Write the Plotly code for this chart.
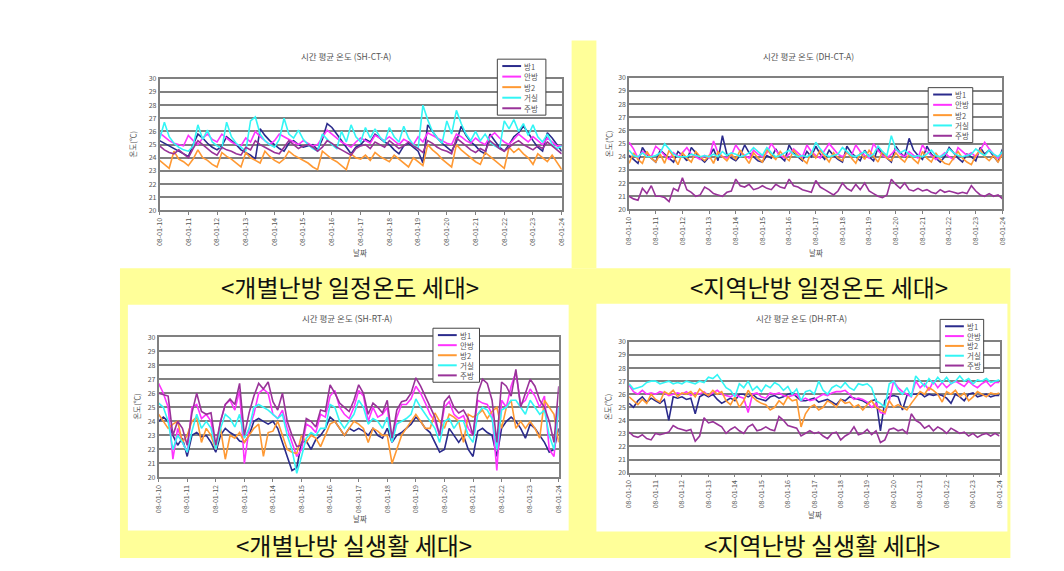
import plotly.graph_objects as go
import pandas as pd

# ---------------- data ----------------
times = pd.date_range("2008-01-10 00:00", "2008-01-24 00:00", freq="4h")  # 85 points
series_names = ["방1", "안방", "방2", "거실", "주방"]
series_colors = ["#2B2B8C", "#FF33FF", "#FF9933", "#33F5F5", "#993399"]

# SH-CT-A
sh_ct_bang1 = [25.3, 25.1, 24.9, 24.7, 24.5, 24.3,
               24.1, 25.0, 25.8, 25.5, 25.1, 24.8,
               24.6, 24.9, 25.6, 25.3, 25.0, 24.6,
               24.4, 24.2, 23.9, 26.2, 25.7, 25.3,
               25.0, 24.7, 24.5, 25.1, 25.3, 25.0,
               24.8, 24.9, 25.0, 24.6, 25.4, 26.6,
               26.3, 25.8, 25.3, 24.8, 24.3, 24.8,
               25.0, 25.4, 25.2, 25.8, 25.5, 25.2,
               25.0, 24.6, 24.3, 24.9, 25.1, 24.8,
               24.5, 23.6, 26.5, 26.0, 25.5, 25.1,
               24.8, 24.5, 25.2, 26.4, 25.7, 25.2,
               24.9, 24.5, 24.3, 25.8, 25.3, 24.8,
               24.5, 25.0, 25.6, 25.9, 26.4, 25.9,
               25.3, 24.8, 24.5, 25.9, 25.5, 25.0,
               24.5]
sh_ct_anbang = [25.9, 25.6, 25.3, 25.1, 25.0, 24.9,
                25.7, 25.3, 25.0, 25.5, 25.8, 25.4,
                25.2, 25.8, 25.5, 25.2, 25.0, 24.9,
                25.5, 25.2, 26.0, 25.6, 25.3, 25.0,
                25.3, 25.8, 25.6, 25.4, 25.2, 25.0,
                25.3, 25.1, 24.9, 25.0, 25.6, 26.1,
                25.8, 25.5, 25.2, 25.0, 24.8, 25.2,
                25.5, 25.3, 25.1, 25.7, 25.5, 25.3,
                25.6, 25.3, 25.0, 25.4, 25.2, 25.0,
                25.6, 25.2, 25.9, 25.7, 25.5, 25.3,
                25.1, 25.0, 25.8, 25.6, 25.3, 25.1,
                25.5, 25.2, 25.0, 25.6, 25.9, 25.5,
                25.2, 25.0, 25.4, 25.8, 25.5, 25.2,
                25.6, 25.3, 25.0, 25.5, 25.2, 24.9,
                24.9]
sh_ct_bang2 = [23.8, 23.5, 23.2, 24.5, 23.9, 23.7,
               23.4, 23.9, 24.6, 24.0, 23.8, 23.5,
               23.3, 24.4, 24.1, 23.9, 23.6, 23.3,
               24.4, 24.0, 23.8, 23.6, 24.5, 24.1,
               23.8, 23.6, 23.9, 24.5, 24.2, 24.0,
               23.8, 23.6, 23.3, 23.1, 24.5, 24.2,
               23.9, 23.7, 23.4, 23.1, 24.3, 24.0,
               23.9, 24.2, 23.8, 24.4, 24.1, 23.9,
               23.7, 24.2, 23.9, 23.6, 23.3, 24.0,
               23.7, 23.4, 25.0, 24.6, 24.3, 23.9,
               23.6, 23.3, 25.0, 24.6, 24.3, 24.0,
               23.7, 23.5, 24.4, 24.1, 23.8, 23.5,
               23.2, 24.8, 24.4, 24.7, 24.3, 24.0,
               23.5, 24.3, 24.0, 23.7, 24.2, 23.6,
               23.1]
sh_ct_geosil = [25.4, 26.7, 25.6, 25.1, 24.8, 24.6,
                24.5, 24.9, 26.5, 25.4, 26.1, 25.2,
                24.9, 24.7, 26.7, 25.6, 25.1, 24.8,
                24.5, 26.8, 27.1, 25.8, 25.3, 25.0,
                24.8, 25.4, 27.0, 25.8, 25.5, 26.1,
                25.4, 25.0, 24.7, 24.5, 25.8, 25.4,
                25.0, 24.7, 26.0, 25.2, 26.5, 25.6,
                25.2, 26.3, 25.5, 26.2, 25.6, 25.2,
                26.3, 25.6, 25.2, 26.4, 25.5, 25.0,
                24.7, 28.0, 26.9, 26.0, 25.5, 25.1,
                26.8, 25.8, 27.6, 26.6, 25.8, 25.3,
                26.0, 25.3, 25.8, 25.2, 24.9, 24.7,
                26.8, 26.2, 26.9, 26.0, 26.6, 25.7,
                26.5, 25.6, 25.2, 25.8, 25.0, 24.7,
                24.9]
sh_ct_jubang = [24.9, 24.6, 24.4, 24.3, 24.6, 24.3,
                24.0, 24.7, 25.3, 25.0, 24.7, 24.4,
                24.2, 24.8, 24.6, 24.5, 24.3, 24.2,
                24.8, 24.6, 25.3, 25.0, 24.8, 24.6,
                24.4, 24.3, 24.8, 25.3, 25.0, 24.7,
                24.9, 25.0, 24.8, 24.5, 24.8, 25.3,
                25.1, 24.8, 24.6, 24.4, 24.2, 24.7,
                24.9, 25.0, 24.7, 25.2, 25.0, 24.8,
                25.3, 25.0, 24.7, 24.9, 25.2, 24.9,
                24.7, 24.4, 25.3, 25.1, 24.8, 24.6,
                24.5, 24.3, 25.5, 25.2, 24.9, 24.6,
                24.4, 24.7, 24.5, 25.3, 25.0, 24.7,
                24.5, 24.8, 25.1, 25.3, 25.0, 24.8,
                24.6, 24.9, 24.7, 25.2, 24.9, 24.6,
                24.3]

# DH-CT-A
dh_ct_bang1 = [24.1, 23.8, 23.5, 24.7, 24.2, 23.9,
               23.6, 24.5, 24.2, 23.9, 23.6, 24.4,
               24.1, 23.7, 24.7, 24.3, 23.9, 23.6,
               24.0, 24.6, 23.7, 25.6, 24.2, 23.9,
               23.7, 24.1, 24.9, 24.3, 24.0, 23.7,
               23.6, 24.1, 23.9, 24.6, 24.0, 23.7,
               24.9, 24.3, 24.0, 23.7, 24.4, 24.0,
               24.8, 24.2, 23.8, 24.5, 24.1, 23.8,
               23.6, 24.8, 24.3, 24.0, 23.7, 24.5,
               24.0, 23.7, 24.7, 24.2, 23.9, 23.6,
               24.8, 24.3, 24.0, 25.4, 24.5, 24.1,
               23.8, 24.8, 24.2, 23.9, 23.6, 24.0,
               24.7, 24.3, 23.9, 23.6, 24.2, 24.0,
               23.7, 24.7, 24.2, 24.5, 24.0, 23.6,
               24.6]
dh_ct_anbang = [25.1, 24.6, 23.9, 24.4, 24.2, 24.0,
                24.8, 24.5, 24.1, 23.8, 24.3, 24.0,
                24.3, 24.7, 24.2, 24.0, 23.8, 24.1,
                23.9, 25.2, 24.3, 24.0, 23.9, 24.1,
                24.9, 24.4, 24.1, 23.9, 24.5, 24.2,
                24.0, 24.3, 25.0, 24.5, 24.1, 23.9,
                24.2, 24.6, 24.3, 24.0, 24.9, 24.4,
                24.1, 23.9, 24.5, 25.0, 24.6, 24.2,
                24.0, 24.3, 24.1, 24.9, 24.4, 24.1,
                23.9, 25.0, 24.5, 24.1, 23.9, 24.2,
                24.6, 24.2, 24.0, 24.4, 24.1, 23.9,
                24.9, 24.4, 24.1, 23.8, 24.0, 24.3,
                24.0, 23.8, 24.7, 24.4, 24.1, 24.3,
                24.0, 24.5, 25.1, 24.6, 24.2, 23.9,
                24.2]
dh_ct_bang2 = [23.5, 24.3, 23.8, 23.5, 24.4, 23.9,
               23.6, 24.2, 23.5, 24.5, 24.0, 23.4,
               24.3, 23.9, 23.6, 24.4, 24.0, 23.7,
               24.1, 23.5, 24.4, 24.0, 23.7, 24.2,
               23.8, 24.5, 24.0, 23.5, 24.3, 23.9,
               23.6, 24.6, 24.1, 23.8, 24.4, 24.0,
               23.7, 24.5, 24.1, 23.8, 23.5, 24.4,
               23.9, 24.5, 24.0, 23.6, 24.3, 23.9,
               23.7, 24.4, 23.9, 23.5, 24.3, 23.8,
               24.5, 24.0, 23.6, 24.4, 23.9, 23.7,
               24.3, 23.9, 23.6, 24.2, 23.8, 23.5,
               24.4, 23.9, 23.6, 24.3, 23.8, 23.5,
               23.4, 23.9, 24.4, 23.9, 23.6, 23.4,
               24.1, 24.5, 24.0, 23.7, 24.1, 23.6,
               24.2]
dh_ct_geosil = [24.5, 24.1, 24.0, 24.3, 24.0, 24.0,
                24.1, 24.3, 25.0, 24.6, 24.2, 24.0,
                24.0, 24.0, 24.2, 24.1, 24.0, 24.1,
                24.0, 24.2, 24.0, 24.4, 24.1, 24.3,
                24.2, 24.0, 24.1, 24.3, 24.7, 24.4,
                24.1, 24.7, 24.3, 24.0, 24.1, 24.3,
                24.5, 24.2, 24.0, 24.1, 24.0, 24.2,
                25.1, 24.6, 24.2, 24.0, 24.1, 24.2,
                24.7, 24.4, 24.1, 24.0, 24.2, 24.4,
                24.0, 24.2, 24.8, 24.4, 24.1, 25.6,
                24.6, 24.3, 24.5, 24.2, 24.0, 24.1,
                24.0, 24.2, 24.5, 24.1, 24.0, 24.2,
                24.6, 24.3, 24.1, 24.0, 24.1, 24.2,
                24.6, 24.3, 24.1, 24.5, 24.2, 24.0,
                24.4]
dh_ct_jubang = [21.0, 20.8, 20.7, 21.6, 21.2, 21.8,
                21.0, 21.0, 20.9, 20.6, 21.6, 21.4,
                22.4, 21.5, 21.3, 21.0, 21.1, 21.7,
                21.5, 21.2, 21.1, 21.0, 21.3, 21.4,
                22.3, 21.8, 21.7, 21.9, 21.5, 21.6,
                21.8, 21.6, 21.5, 21.9, 21.7, 21.6,
                22.3, 21.8, 21.7, 21.5, 21.4, 21.3,
                22.2, 21.7, 21.5, 21.3, 21.1, 21.4,
                22.0, 21.6, 21.4, 21.9, 21.5, 22.0,
                21.4, 21.2, 21.0, 20.9, 21.1, 22.3,
                21.9, 21.6, 22.0, 21.5, 21.4, 21.6,
                21.4, 21.5, 21.3, 21.2, 21.5, 21.3,
                21.4, 21.3, 21.2, 21.3, 21.2, 21.8,
                21.4, 21.1, 21.0, 21.2, 21.0, 21.1,
                20.8]

# SH-RT-A
sh_rt_bang1 = [24.0, 24.3, 24.0, 23.0, 22.3, 22.8,
               21.5, 23.0, 23.2, 22.9, 23.0, 22.5,
               21.8, 23.0, 23.5, 23.2, 23.0, 22.6,
               22.5, 23.0, 24.0, 24.2, 24.0, 23.8,
               24.0, 23.5, 22.5, 21.5, 20.5, 20.7,
               22.5, 22.6, 22.0, 22.7, 23.0, 23.5,
               24.3, 24.0, 23.5, 23.0, 23.5, 23.3,
               23.5, 23.3, 23.0, 23.5, 23.0, 22.8,
               23.5, 22.5, 23.0, 23.2, 23.5, 23.8,
               24.3, 24.0, 23.5, 23.2, 22.5, 21.8,
               22.0, 23.5, 23.0, 22.5, 23.0, 22.0,
               21.5, 23.3, 23.5, 23.2, 23.0, 21.5,
               23.5, 24.0, 24.3, 24.0, 23.5, 22.8,
               23.8, 23.5, 23.0, 22.5, 21.8, 22.0,
               23.5]
sh_rt_anbang = [26.7, 26.0, 25.0, 21.3, 23.5, 22.5,
                21.8, 25.0, 25.2, 24.2, 24.5, 24.0,
                22.0, 24.0, 25.2, 25.5, 24.8, 26.2,
                21.0, 23.5, 24.5, 26.0, 26.3, 26.0,
                24.5, 24.2, 24.8, 23.5, 22.5, 21.5,
                22.0, 23.8, 23.6, 23.2, 24.5, 24.3,
                25.8, 26.2, 25.0, 24.5, 24.2, 25.0,
                26.2, 25.8, 24.0, 25.0, 24.3, 24.5,
                25.0, 22.5, 24.3, 25.2, 25.2, 25.6,
                26.5, 26.0, 25.3, 24.5, 24.0, 23.0,
                25.0, 25.4, 24.5, 24.2, 24.4, 23.5,
                23.0, 25.5, 25.3, 25.2, 24.5, 20.5,
                25.5, 25.0, 26.5, 27.5, 25.2, 25.5,
                26.3, 25.8, 25.0, 25.8, 22.0, 21.5,
                25.0]
sh_rt_bang2 = [24.5, 24.0, 23.5, 23.8, 24.0, 22.5,
               23.0, 24.0, 24.3, 22.5, 23.5, 23.0,
               22.0, 23.5, 21.3, 23.0, 22.8, 23.2,
               22.5, 23.0, 23.5, 23.8, 21.5, 23.2,
               23.3, 24.0, 23.0, 22.0, 21.8, 21.7,
               23.0, 22.5, 23.0, 22.8, 22.2, 23.0,
               23.8, 24.0, 23.5, 23.0, 23.5, 24.0,
               23.8, 23.5, 22.5, 23.5, 23.3, 23.0,
               23.0, 21.0, 22.0, 23.0, 23.5, 24.0,
               24.5, 24.0, 23.5, 23.5, 24.6, 24.0,
               23.5, 24.5, 24.3, 24.0, 22.5, 24.5,
               24.3, 24.5, 24.8, 24.2, 24.7, 25.0,
               23.5, 25.0, 25.5, 23.5, 24.0, 23.5,
               24.0, 23.5, 22.8, 25.5, 25.0, 24.5,
               22.5]
sh_rt_geosil = [25.3, 25.0, 24.0, 22.0, 23.0, 22.5,
                21.8, 23.3, 24.5, 23.5, 24.0, 23.5,
                22.0, 23.5, 24.5, 24.2, 23.6, 24.5,
                22.8, 23.5, 25.0, 25.2, 25.0, 24.8,
                24.5, 24.2, 24.5, 23.0, 22.0, 20.3,
                21.5, 22.8, 23.2, 23.0, 23.5, 23.5,
                25.2, 25.0, 24.0, 23.5, 24.0, 24.5,
                25.5, 25.0, 23.8, 24.2, 24.0, 23.5,
                24.3, 22.5, 23.8, 24.0, 24.2, 24.5,
                25.6, 25.0, 24.5, 24.0, 23.5, 22.5,
                24.0, 24.2, 23.5, 24.0, 24.0, 23.0,
                22.5, 24.5, 25.0, 24.8, 24.2, 22.0,
                24.8, 25.0, 25.5, 25.5, 25.0, 24.5,
                25.5, 25.0, 24.5, 24.8, 23.0, 22.0,
                25.0]
sh_rt_jubang = [26.0, 25.9, 25.8, 23.0, 24.0, 23.5,
                22.3, 24.6, 26.0, 24.7, 24.5, 24.6,
                22.3, 24.0, 25.2, 25.6, 25.2, 26.7,
                23.0, 24.6, 25.8, 26.7, 26.3, 26.8,
                25.4, 24.8, 26.0, 24.0, 23.0, 22.2,
                22.3, 24.2, 24.0, 23.6, 24.8, 24.7,
                26.6, 26.0, 25.3, 25.0, 24.7, 25.5,
                26.6, 26.0, 24.5, 25.3, 25.0, 24.6,
                25.5, 22.8, 24.8, 25.4, 25.5, 26.0,
                27.1, 26.5, 25.8, 25.0, 24.3, 23.0,
                25.4, 25.8, 25.0, 24.6, 24.8, 24.2,
                23.0, 26.0, 27.0, 26.7, 25.5, 22.5,
                26.8, 26.5, 25.8, 27.7, 25.0, 26.0,
                27.0, 26.5, 25.5, 25.0, 24.0, 22.5,
                26.5]

# DH-RT-A
dh_rt_bang1 = [25.3, 25.0, 25.5, 25.8, 25.4, 25.7,
               25.5, 25.3, 25.6, 24.0, 25.8, 25.7,
               25.8, 25.6, 25.7, 24.5, 25.8, 26.0,
               25.8, 26.0, 25.6, 25.3, 25.5, 25.7,
               25.5, 26.0, 26.0, 25.8, 26.0, 25.7,
               25.6, 25.5, 25.8, 25.9, 25.7, 25.8,
               26.0, 26.1, 25.8, 25.5, 25.5, 25.6,
               25.7, 25.4, 25.5, 25.6, 25.4, 25.2,
               25.6, 25.5, 25.8, 25.7, 25.6, 25.5,
               25.3, 25.5, 25.6, 23.2, 25.5, 25.8,
               25.9, 25.8, 24.8, 25.9, 26.0, 26.0,
               26.1, 25.8, 26.0, 25.9, 26.0, 25.9,
               25.7, 25.3, 26.0, 25.8, 25.5, 26.0,
               26.1, 25.8, 25.9, 26.0, 25.8, 25.9,
               25.9]
dh_rt_anbang = [26.7, 26.2, 26.0, 26.3, 26.0, 26.1,
                26.0, 26.2, 26.1, 25.9, 26.0, 26.1,
                26.0, 26.2, 25.9, 26.1, 26.0, 26.2,
                25.9, 26.1, 26.3, 26.0, 25.9, 25.8,
                26.0, 25.8, 25.7, 24.6, 26.0, 26.1,
                25.8, 25.7, 26.1, 26.0, 26.1, 25.9,
                25.8, 25.9, 26.0, 25.5, 25.7, 25.5,
                25.6, 25.8, 26.0, 25.9, 26.1, 26.2,
                26.2, 26.3, 26.0, 25.6, 25.7, 25.6,
                25.4, 25.0, 25.3, 24.6, 24.5, 25.5,
                27.0, 26.5, 26.2, 26.0, 25.8, 27.0,
                26.5, 26.8, 26.3, 27.0, 26.5, 26.9,
                26.5, 26.8, 27.0, 26.8, 26.6, 27.0,
                26.7, 26.5, 26.8, 27.0, 26.6, 26.9,
                26.9]
dh_rt_bang2 = [25.8, 25.5, 25.2, 25.6, 25.3, 26.0,
               25.6, 25.4, 26.2, 26.0, 26.3, 25.8,
               26.1, 26.0, 26.2, 25.8, 26.4, 26.1,
               25.9, 26.3, 26.0, 26.2, 25.5, 25.2,
               25.8, 25.0, 25.5, 26.3, 25.8, 25.5,
               25.3, 25.2, 24.8, 25.0, 25.5, 25.2,
               25.8, 25.5, 25.6, 23.5, 24.5, 25.0,
               25.2, 24.8, 25.0, 25.5, 25.3, 25.0,
               25.6, 25.3, 25.4, 25.0, 25.2, 24.8,
               25.2, 25.5, 25.0, 24.8, 24.6, 25.5,
               25.0, 25.2, 25.0, 24.8, 25.3, 25.8,
               26.2, 26.0, 26.5, 26.3, 26.0, 25.4,
               26.2, 26.0, 26.3, 25.8, 26.1, 25.5,
               25.8, 26.2, 26.0, 25.8, 26.1, 26.0,
               26.1]
dh_rt_geosil = [26.8, 26.4, 26.5, 26.6, 26.9, 27.0,
                27.0, 26.8, 26.9, 27.0, 26.8, 26.9,
                26.8, 27.0, 26.9, 26.8, 27.0, 26.9,
                27.3, 27.2, 27.5, 27.0, 26.5, 26.3,
                25.8, 26.8, 26.5, 27.0, 26.3, 26.6,
                26.2, 26.7, 26.5, 26.9, 26.7, 26.3,
                26.6, 26.0, 26.4, 25.5, 26.2, 26.3,
                26.0, 27.0, 26.3, 26.0, 26.5, 26.7,
                26.5, 26.9, 26.5, 26.3, 26.8, 26.7,
                26.8, 26.5, 25.5, 25.3, 25.0, 26.8,
                27.0, 26.3, 26.0, 26.5, 25.8, 27.4,
                27.0, 26.6, 27.2, 26.8, 27.3, 26.9,
                27.3, 26.8, 27.0, 27.4, 27.0, 27.2,
                26.8, 27.1, 27.0, 27.2, 26.9, 27.0,
                27.1]
dh_rt_jubang = [23.1, 22.8, 22.7, 22.9, 22.6, 22.5,
                23.0, 22.9, 23.0, 23.1, 23.6, 23.4,
                23.3, 23.2, 23.3, 22.4, 22.8, 24.2,
                23.8, 23.9, 23.7, 23.5, 23.0, 23.3,
                23.5, 23.2, 23.0, 23.5, 23.7, 23.2,
                23.3, 23.5, 23.3, 23.2, 24.3, 24.0,
                23.6, 23.5, 23.4, 22.8, 23.0, 23.2,
                23.0, 23.1, 22.8, 22.6, 23.0, 23.1,
                22.5, 22.8, 23.0, 23.5, 22.9, 23.0,
                23.3, 22.9, 23.2, 22.3, 22.5, 23.3,
                23.4, 23.2, 23.3, 23.0, 24.5, 24.0,
                23.8, 23.4, 23.6, 23.2, 23.5, 23.3,
                23.0, 23.4, 23.2, 23.0, 23.1, 22.8,
                23.0, 22.7, 22.9, 23.0, 22.8, 23.0,
                22.8]

chart_titles = ["시간 평균 온도 (SH-CT-A)", "시간 평균 온도 (DH-CT-A)",
                "시간 평균 온도 (SH-RT-A)", "시간 평균 온도 (DH-RT-A)"]
captions = ["<개별난방 일정온도 세대>", "<지역난방 일정온도 세대>",
            "<개별난방 실생활 세대>", "<지역난방 실생활 세대>"]
x_title = "날짜"
y_title = "온도(℃)"
y_ticks = [20, 21, 22, 23, 24, 25, 26, 27, 28, 29, 30]

chart_data = [
    [sh_ct_bang1, sh_ct_anbang, sh_ct_bang2, sh_ct_geosil, sh_ct_jubang],
    [dh_ct_bang1, dh_ct_anbang, dh_ct_bang2, dh_ct_geosil, dh_ct_jubang],
    [sh_rt_bang1, sh_rt_anbang, sh_rt_bang2, sh_rt_geosil, sh_rt_jubang],
    [dh_rt_bang1, dh_rt_anbang, dh_rt_bang2, dh_rt_geosil, dh_rt_jubang],
]

# ---------------- layout (pixel geometry of the 1064x571 page) ----------------
PAGE_W, PAGE_H = 1064, 571
OFF = 8                      # default page margin of the html body
W, H = PAGE_W - 2 * OFF, PAGE_H - 2 * OFF
def X(p): return (p - OFF) / W
def Y(p): return 1 - (p - OFF) / H

FONT = "Noto Sans CJK KR, Noto Sans, sans-serif"
YELLOW = "#FFFF99"
GRID = "#808080"
TXT = "#555555"

plots = [(155, 561, 74, 208), (629, 1006, 73, 207), (154, 558, 337, 480), (629, 1003, 342, 475)]
title_pos = [(343, 51), (810, 51), (345, 318), (803, 318)]
xt_pos = [(357, 251), (818, 251), (357, 522), (817, 518)]
yt_pos = [(128, 141), (608, 140), (132, 408), (608, 408)]
legend_box = [(496, 54, 49, 57), (931, 83, 45, 56), (431, 328, 47, 55), (943, 319, 44, 54)]
caption_pos = [(347, 285), (821, 285), (351, 548), (824, 548)]

fig = go.Figure()

for k in range(4):
    sfx = "" if k == 0 else str(k + 1)
    for name, col, vals in zip(series_names, series_colors, chart_data[k]):
        fig.add_trace(go.Scatter(
            x=times, y=vals, mode="lines", name=name, showlegend=False,
            line=dict(color=col, width=1.6),
            xaxis="x" + sfx, yaxis="y" + sfx,
        ))

layout = dict(
    width=W, height=H, margin=dict(l=0, r=0, t=0, b=0),
    paper_bgcolor="white", plot_bgcolor="white",
    font=dict(family=FONT, color=TXT, size=7),
    showlegend=False,
    shapes=[], annotations=[],
)

def ann(x, y, text, size, color=TXT, angle=0, xanchor="center"):
    return dict(x=X(x), y=Y(y), xref="paper", yref="paper", text=text,
                showarrow=False, xanchor=xanchor, yanchor="middle", textangle=angle,
                font=dict(size=size, color=color, family=FONT))

# backgrounds
layout["shapes"] += [
    dict(type="rect", xref="paper", yref="paper", x0=X(115), x1=X(1014), y0=Y(562), y1=Y(267),
         fillcolor=YELLOW, line=dict(width=0), layer="below"),
    dict(type="rect", xref="paper", yref="paper", x0=X(571), x1=X(596), y0=Y(267), y1=Y(35),
         fillcolor=YELLOW, line=dict(width=0), layer="below"),
    dict(type="rect", xref="paper", yref="paper", x0=X(123), x1=X(568), y0=Y(534), y1=Y(304),
         fillcolor="white", line=dict(width=0), layer="below"),
    dict(type="rect", xref="paper", yref="paper", x0=X(596), x1=X(1011), y0=Y(535), y1=Y(303),
         fillcolor="white", line=dict(width=0), layer="below"),
]

for k in range(4):
    sfx = "" if k == 0 else str(k + 1)
    l, r, t, b = plots[k]
    layout["xaxis" + sfx] = dict(
        domain=[X(l), X(r)], anchor="y" + sfx, type="date",
        range=[times[0], times[-1]], dtick=86400000, tick0=times[0],
        tickformat="%y-%m-%d", tickangle=-90,
        tickfont=dict(size=7, color=TXT, family=FONT),
        showgrid=False, zeroline=False,
        showline=True, mirror=True, linecolor=GRID, linewidth=1.5,
        ticks="outside", ticklen=3, tickcolor=GRID,
    )
    layout["yaxis" + sfx] = dict(
        domain=[Y(b), Y(t)], anchor="x" + sfx,
        range=[20, 30], tickvals=y_ticks,
        tickfont=dict(size=7, color=TXT, family=FONT),
        showgrid=True, gridcolor=GRID, gridwidth=1.5, zeroline=False,
        showline=True, mirror=True, linecolor=GRID, linewidth=1.5,
        ticks="",
    )
    # legend box drawn in the Excel style
    lx, ly, lw, lh = legend_box[k]
    layout["shapes"].append(dict(
        type="rect", xref="paper", yref="paper", x0=X(lx), x1=X(lx + lw), y0=Y(ly + lh), y1=Y(ly),
        fillcolor="white", line=dict(color="#444444", width=1), layer="above"))
    step = (lh - 14) / 4
    for i, (name, col) in enumerate(zip(series_names, series_colors)):
        yy = ly + 7 + i * step
        layout["shapes"].append(dict(
            type="line", xref="paper", yref="paper", x0=X(lx + 5), x1=X(lx + 24), y0=Y(yy), y1=Y(yy),
            line=dict(color=col, width=2), layer="above"))
        layout["annotations"].append(ann(lx + 25, yy, name, 7.5, xanchor="left"))

    tx, ty = title_pos[k]
    layout["annotations"].append(ann(tx, ty, chart_titles[k], 8.5))
    ax, ay = xt_pos[k]
    layout["annotations"].append(ann(ax, ay, x_title, 7.5))
    yx, yy = yt_pos[k]
    layout["annotations"].append(ann(yx, yy, y_title, 7.5, angle=-90))
    cx, cy = caption_pos[k]
    layout["annotations"].append(ann(cx, cy, captions[k], 24, color="#111111"))

fig.update_layout(**layout)
fig.write_html("out.html")
